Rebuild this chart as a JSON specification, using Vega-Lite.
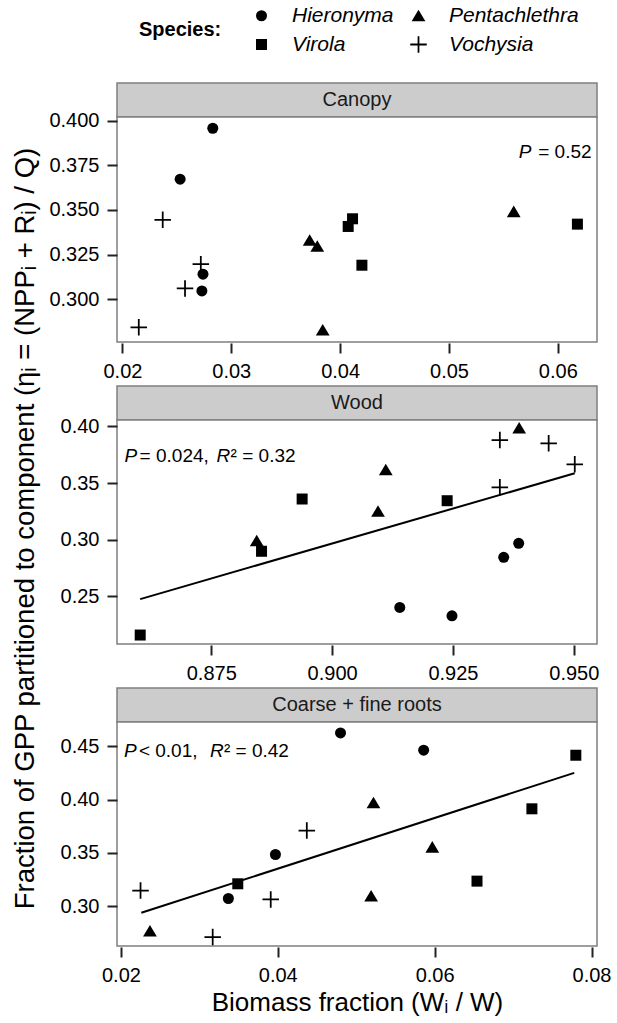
{
  "$schema": "https://vega.github.io/schema/vega-lite/v6.json",
  "padding": {"left": 5, "top": 5, "right": 0, "bottom": 3},
  "config": {
    "font": "Liberation Sans",
    "view": {"stroke": "#7f7f7f", "strokeWidth": 1.5, "fill": "white"},
    "axis": {"grid": false, "domain": false, "tickColor": "#222222", "tickWidth": 2, "tickSize": 10, "labelFontSize": 20, "labelColor": "black", "labelPadding": 8, "labelFlush": false, "labelOverlap": false, "titleFontSize": 26, "titleFontWeight": "normal", "titleColor": "black", "titlePadding": 4},
    "axisX": {"offset": 1},
    "legend": {"orient": "none", "legendX": 134, "legendY": -78, "columns": 2, "direction": "horizontal", "titleOrient": "left", "titleFontSize": 20, "titleFontWeight": "bold", "titleColor": "black", "titlePadding": 29, "titleBaseline": "middle", "titleAnchor": "middle", "labelFontSize": 21, "labelFontStyle": "italic", "labelColor": "black", "labelOffset": 20, "columnPadding": 14, "rowPadding": 7, "symbolSize": 121, "symbolFillColor": "black", "symbolStrokeWidth": 0}
  },
  "datasets": {
    "pts": [
      {"panel": "Canopy", "species": "Hieronyma", "x": 0.0283, "y": 0.3957},
      {"panel": "Canopy", "species": "Hieronyma", "x": 0.0253, "y": 0.3672},
      {"panel": "Canopy", "species": "Hieronyma", "x": 0.0274, "y": 0.314},
      {"panel": "Canopy", "species": "Hieronyma", "x": 0.0273, "y": 0.3046},
      {"panel": "Canopy", "species": "Vochysia", "x": 0.0237, "y": 0.3444},
      {"panel": "Canopy", "species": "Vochysia", "x": 0.0272, "y": 0.3196},
      {"panel": "Canopy", "species": "Vochysia", "x": 0.02575, "y": 0.306},
      {"panel": "Canopy", "species": "Vochysia", "x": 0.0215, "y": 0.2842},
      {"panel": "Canopy", "species": "Pentachlethra", "x": 0.0372, "y": 0.333},
      {"panel": "Canopy", "species": "Pentachlethra", "x": 0.0379, "y": 0.3296},
      {"panel": "Canopy", "species": "Pentachlethra", "x": 0.0384, "y": 0.2827},
      {"panel": "Canopy", "species": "Pentachlethra", "x": 0.05595, "y": 0.349},
      {"panel": "Canopy", "species": "Virola", "x": 0.04114, "y": 0.345},
      {"panel": "Canopy", "species": "Virola", "x": 0.04074, "y": 0.3407},
      {"panel": "Canopy", "species": "Virola", "x": 0.042, "y": 0.319},
      {"panel": "Canopy", "species": "Virola", "x": 0.0618, "y": 0.342},
      {"panel": "Wood", "species": "Virola", "x": 0.8603, "y": 0.2159},
      {"panel": "Wood", "species": "Virola", "x": 0.8854, "y": 0.2898},
      {"panel": "Wood", "species": "Virola", "x": 0.8938, "y": 0.3359},
      {"panel": "Wood", "species": "Virola", "x": 0.9238, "y": 0.3344},
      {"panel": "Wood", "species": "Pentachlethra", "x": 0.8844, "y": 0.299},
      {"panel": "Wood", "species": "Pentachlethra", "x": 0.9111, "y": 0.3617},
      {"panel": "Wood", "species": "Pentachlethra", "x": 0.9095, "y": 0.325},
      {"panel": "Wood", "species": "Pentachlethra", "x": 0.9387, "y": 0.3985},
      {"panel": "Wood", "species": "Vochysia", "x": 0.9347, "y": 0.3879},
      {"panel": "Wood", "species": "Vochysia", "x": 0.9448, "y": 0.385},
      {"panel": "Wood", "species": "Vochysia", "x": 0.9502, "y": 0.3665},
      {"panel": "Wood", "species": "Vochysia", "x": 0.9347, "y": 0.3462},
      {"panel": "Wood", "species": "Hieronyma", "x": 0.914, "y": 0.2403},
      {"panel": "Wood", "species": "Hieronyma", "x": 0.9248, "y": 0.2329},
      {"panel": "Wood", "species": "Hieronyma", "x": 0.9355, "y": 0.2845},
      {"panel": "Wood", "species": "Hieronyma", "x": 0.9386, "y": 0.2968},
      {"panel": "Roots", "species": "Vochysia", "x": 0.0225, "y": 0.3146},
      {"panel": "Roots", "species": "Vochysia", "x": 0.0317, "y": 0.2709},
      {"panel": "Roots", "species": "Vochysia", "x": 0.0391, "y": 0.3062},
      {"panel": "Roots", "species": "Vochysia", "x": 0.0437, "y": 0.3709},
      {"panel": "Roots", "species": "Pentachlethra", "x": 0.0237, "y": 0.2766},
      {"panel": "Roots", "species": "Pentachlethra", "x": 0.0522, "y": 0.3969},
      {"panel": "Roots", "species": "Pentachlethra", "x": 0.0519, "y": 0.3094},
      {"panel": "Roots", "species": "Pentachlethra", "x": 0.0597, "y": 0.3553},
      {"panel": "Roots", "species": "Hieronyma", "x": 0.048, "y": 0.4625},
      {"panel": "Roots", "species": "Hieronyma", "x": 0.0586, "y": 0.4463},
      {"panel": "Roots", "species": "Hieronyma", "x": 0.0397, "y": 0.3484},
      {"panel": "Roots", "species": "Hieronyma", "x": 0.0337, "y": 0.3071},
      {"panel": "Roots", "species": "Virola", "x": 0.0349, "y": 0.3209},
      {"panel": "Roots", "species": "Virola", "x": 0.0654, "y": 0.3234},
      {"panel": "Roots", "species": "Virola", "x": 0.0724, "y": 0.3913},
      {"panel": "Roots", "species": "Virola", "x": 0.078, "y": 0.4416}
    ],
    "fit": [
      {"panel": "Wood", "x": 0.8603, "y": 0.2476},
      {"panel": "Wood", "x": 0.9502, "y": 0.3586},
      {"panel": "Roots", "x": 0.0226, "y": 0.2937},
      {"panel": "Roots", "x": 0.0778, "y": 0.425}
    ]
  },
  "spacing": 1,
  "hconcat": [
    {
      "width": 42,
      "height": 891,
      "view": {"stroke": null, "fill": null},
      "data": {"values": [{"t": "Fraction of GPP partitioned to component (ηᵢ = (NPPᵢ + Rᵢ) / Q)"}]},
      "mark": {"type": "text", "angle": 270, "fontSize": 27.5, "color": "black"},
      "encoding": {"text": {"field": "t"}}
    },
    {
      "spacing": 3,
      "vconcat": [
        {
          "spacing": 0,
          "bounds": "flush",
          "vconcat": [
            {
              "width": 480, "height": 34,
              "view": {"fill": "#cccccc", "stroke": "#7f7f7f", "strokeWidth": 1.5},
              "data": {"values": [{"label": "Canopy"}]},
              "mark": {"type": "text", "fontSize": 20, "color": "#1a1a1a"},
              "encoding": {"text": {"field": "label"}}
            },
            {
              "width": 480, "height": 225,
              "layer": [
                {
                  "data": {"name": "pts"},
                  "transform": [{"filter": "datum.panel === 'Canopy'"}],
                  "mark": {"type": "point", "filled": true, "fill": "black", "strokeWidth": 0, "opacity": 1, "size": 121},
                  "encoding": {
                    "x": {"field": "x", "type": "quantitative", "scale": {"domain": [0.0195, 0.0636], "nice": false, "zero": false}, "axis": {"values": [0.02, 0.03, 0.04, 0.05, 0.06], "format": ".2f", "title": null}},
                    "y": {"field": "y", "type": "quantitative", "scale": {"domain": [0.276, 0.402], "nice": false, "zero": false}, "axis": {"values": [0.3, 0.325, 0.35, 0.375, 0.4], "format": ".3f", "title": null}},
                    "shape": {"field": "species", "type": "nominal", "scale": {"domain": ["Hieronyma", "Pentachlethra", "Virola", "Vochysia"], "range": ["circle", "M0,-1.1L-1.25,1L1.25,1Z", "square", "M-1.5,-0.16H-0.16V-1.5H0.16V-0.16H1.5V0.16H0.16V1.5H-0.16V0.16H-1.5Z"]}, "legend": {"title": "Species:"}}
                  }
                },
                {
                  "data": {"values": [{}]},
                  "mark": {"type": "text", "fontSize": 19, "align": "right", "color": "black"},
                  "encoding": {"x": {"datum": 0.0631, "type": "quantitative", "title": null}, "y": {"datum": 0.3825, "type": "quantitative", "title": null}, "text": {"value": "= 0.52"}}
                },
                {
                  "data": {"values": [{}]},
                  "mark": {"type": "text", "fontSize": 19, "align": "right", "fontStyle": "italic", "color": "black", "dx": -60},
                  "encoding": {"x": {"datum": 0.0631, "type": "quantitative", "title": null}, "y": {"datum": 0.3825, "type": "quantitative", "title": null}, "text": {"value": "P"}}
                }
              ]
            }
          ]
        },
        {
          "spacing": 0,
          "bounds": "flush",
          "vconcat": [
            {
              "width": 480, "height": 34,
              "view": {"fill": "#cccccc", "stroke": "#7f7f7f", "strokeWidth": 1.5},
              "data": {"values": [{"label": "Wood"}]},
              "mark": {"type": "text", "fontSize": 20, "color": "#1a1a1a"},
              "encoding": {"text": {"field": "label"}}
            },
            {
              "width": 480, "height": 224,
              "layer": [
                {
                  "data": {"name": "fit"},
                  "transform": [{"filter": "datum.panel === 'Wood'"}],
                  "mark": {"type": "line", "color": "black", "strokeWidth": 2},
                  "encoding": {
                    "x": {"field": "x", "type": "quantitative", "title": null},
                    "y": {"field": "y", "type": "quantitative", "title": null}
                  }
                },
                {
                  "data": {"name": "pts"},
                  "transform": [{"filter": "datum.panel === 'Wood'"}],
                  "mark": {"type": "point", "filled": true, "fill": "black", "strokeWidth": 0, "opacity": 1, "size": 121},
                  "encoding": {
                    "x": {"field": "x", "type": "quantitative", "scale": {"domain": [0.8555, 0.9548], "nice": false, "zero": false}, "axis": {"values": [0.875, 0.9, 0.925, 0.95], "format": ".3f", "title": null}},
                    "y": {"field": "y", "type": "quantitative", "scale": {"domain": [0.208, 0.4056], "nice": false, "zero": false}, "axis": {"values": [0.25, 0.3, 0.35, 0.4], "format": ".2f", "title": null}},
                    "shape": {"field": "species", "type": "nominal", "scale": {"domain": ["Hieronyma", "Pentachlethra", "Virola", "Vochysia"], "range": ["circle", "M0,-1.1L-1.25,1L1.25,1Z", "square", "M-1.5,-0.16H-0.16V-1.5H0.16V-0.16H1.5V0.16H0.16V1.5H-0.16V0.16H-1.5Z"]}, "legend": {"title": "Species:"}}
                  }
                },
                {
                  "data": {"values": [{}]},
                  "mark": {"type": "text", "fontSize": 19, "align": "left", "fontStyle": "italic", "color": "black"},
                  "encoding": {"x": {"datum": 0.85707, "type": "quantitative", "title": null}, "y": {"datum": 0.3742, "type": "quantitative", "title": null}, "text": {"value": "P"}}
                },
                {
                  "data": {"values": [{}]},
                  "mark": {"type": "text", "fontSize": 19, "align": "left", "color": "black", "dx": 15},
                  "encoding": {"x": {"datum": 0.85707, "type": "quantitative", "title": null}, "y": {"datum": 0.3742, "type": "quantitative", "title": null}, "text": {"value": "= 0.024,"}}
                },
                {
                  "data": {"values": [{}]},
                  "mark": {"type": "text", "fontSize": 19, "align": "left", "fontStyle": "italic", "color": "black", "dx": 92},
                  "encoding": {"x": {"datum": 0.85707, "type": "quantitative", "title": null}, "y": {"datum": 0.3742, "type": "quantitative", "title": null}, "text": {"value": "R"}}
                },
                {
                  "data": {"values": [{}]},
                  "mark": {"type": "text", "fontSize": 19, "align": "left", "color": "black", "dx": 106},
                  "encoding": {"x": {"datum": 0.85707, "type": "quantitative", "title": null}, "y": {"datum": 0.3742, "type": "quantitative", "title": null}, "text": {"value": "² = 0.32"}}
                }
              ]
            }
          ]
        },
        {
          "spacing": 0,
          "bounds": "flush",
          "vconcat": [
            {
              "width": 480, "height": 34,
              "view": {"fill": "#cccccc", "stroke": "#7f7f7f", "strokeWidth": 1.5},
              "data": {"values": [{"label": "Coarse + fine roots"}]},
              "mark": {"type": "text", "fontSize": 20, "color": "#1a1a1a"},
              "encoding": {"text": {"field": "label"}}
            },
            {
              "width": 480, "height": 224,
              "layer": [
                {
                  "data": {"name": "fit"},
                  "transform": [{"filter": "datum.panel === 'Roots'"}],
                  "mark": {"type": "line", "color": "black", "strokeWidth": 2},
                  "encoding": {
                    "x": {"field": "x", "type": "quantitative", "title": "Biomass fraction (Wᵢ / W)"},
                    "y": {"field": "y", "type": "quantitative", "title": null}
                  }
                },
                {
                  "data": {"name": "pts"},
                  "transform": [{"filter": "datum.panel === 'Roots'"}],
                  "mark": {"type": "point", "filled": true, "fill": "black", "strokeWidth": 0, "opacity": 1, "size": 121},
                  "encoding": {
                    "x": {"field": "x", "type": "quantitative", "scale": {"domain": [0.0195, 0.0807], "nice": false, "zero": false}, "axis": {"values": [0.02, 0.04, 0.06, 0.08], "format": ".2f"}, "title": "Biomass fraction (Wᵢ / W)"},
                    "y": {"field": "y", "type": "quantitative", "scale": {"domain": [0.2625, 0.4728], "nice": false, "zero": false}, "axis": {"values": [0.3, 0.35, 0.4, 0.45], "format": ".2f", "title": null}},
                    "shape": {"field": "species", "type": "nominal", "scale": {"domain": ["Hieronyma", "Pentachlethra", "Virola", "Vochysia"], "range": ["circle", "M0,-1.1L-1.25,1L1.25,1Z", "square", "M-1.5,-0.16H-0.16V-1.5H0.16V-0.16H1.5V0.16H0.16V1.5H-0.16V0.16H-1.5Z"]}, "legend": {"title": "Species:"}}
                  }
                },
                {
                  "data": {"values": [{}]},
                  "mark": {"type": "text", "fontSize": 19, "align": "left", "fontStyle": "italic", "color": "black"},
                  "encoding": {"x": {"datum": 0.02038, "type": "quantitative", "title": "Biomass fraction (Wᵢ / W)"}, "y": {"datum": 0.4456, "type": "quantitative", "title": null}, "text": {"value": "P"}}
                },
                {
                  "data": {"values": [{}]},
                  "mark": {"type": "text", "fontSize": 19, "align": "left", "color": "black", "dx": 15},
                  "encoding": {"x": {"datum": 0.02038, "type": "quantitative", "title": "Biomass fraction (Wᵢ / W)"}, "y": {"datum": 0.4456, "type": "quantitative", "title": null}, "text": {"value": "< 0.01,"}}
                },
                {
                  "data": {"values": [{}]},
                  "mark": {"type": "text", "fontSize": 19, "align": "left", "fontStyle": "italic", "color": "black", "dx": 86},
                  "encoding": {"x": {"datum": 0.02038, "type": "quantitative", "title": "Biomass fraction (Wᵢ / W)"}, "y": {"datum": 0.4456, "type": "quantitative", "title": null}, "text": {"value": "R"}}
                },
                {
                  "data": {"values": [{}]},
                  "mark": {"type": "text", "fontSize": 19, "align": "left", "color": "black", "dx": 100},
                  "encoding": {"x": {"datum": 0.02038, "type": "quantitative", "title": "Biomass fraction (Wᵢ / W)"}, "y": {"datum": 0.4456, "type": "quantitative", "title": null}, "text": {"value": "² = 0.42"}}
                }
              ]
            }
          ]
        }
      ]
    }
  ]
}
